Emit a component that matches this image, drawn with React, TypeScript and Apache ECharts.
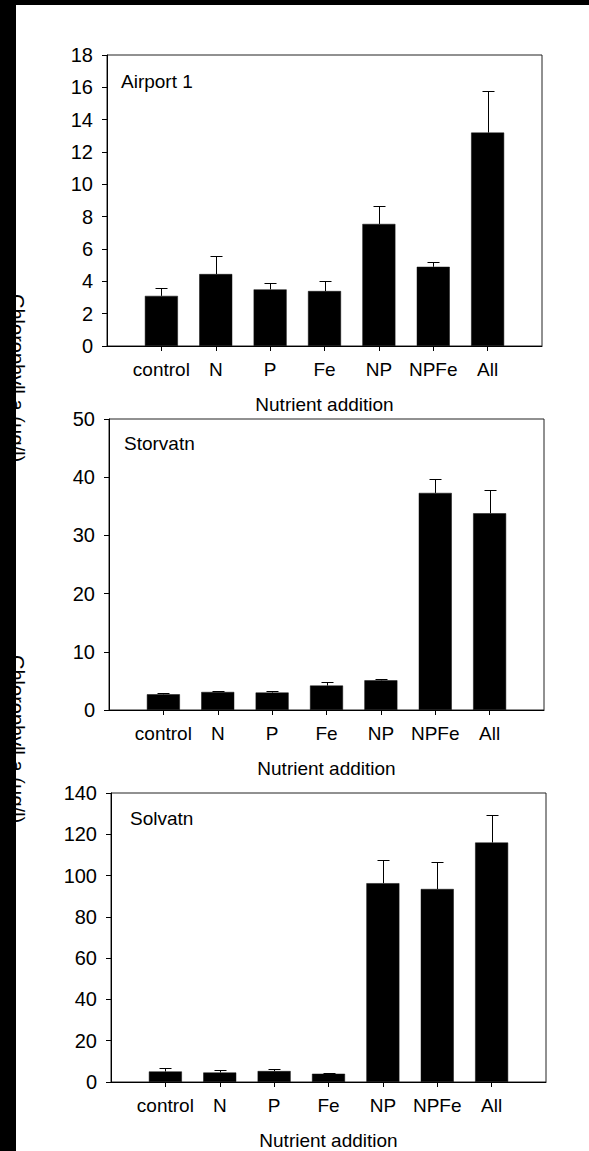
import React, { useEffect, useRef } from "react";
import * as echarts from "echarts";

// Nutrient treatments, in plotting order
const categories = ["control", "N", "P", "Fe", "NP", "NPFe", "All"];

// Chlorophyll a (µg/l): mean and standard error per treatment
const airportMeans = [3.1, 4.45, 3.5, 3.4, 7.55, 4.9, 13.2];
const airportErrors = [0.5, 1.1, 0.4, 0.65, 1.1, 0.3, 2.55];

const storvatnMeans = [2.7, 3.1, 3.0, 4.2, 5.1, 37.3, 33.8];
const storvatnErrors = [0.25, 0.2, 0.2, 0.65, 0.3, 2.35, 3.95];

const solvatnMeans = [5.1, 4.6, 5.3, 4.0, 96.3, 93.5, 116.0];
const solvatnErrors = [1.5, 1.0, 0.8, 0.5, 11.3, 13.2, 13.4];

const lakeNames = ["Airport 1", "Storvatn", "Solvatn"];
const yMax = [18, 50, 140];
const yStep = [2, 10, 20];

const xTitle = "Nutrient addition";
const yTitle = "Chlorophyll a (µg/l)";

const FONT = "'Liberation Sans', Arial, Helvetica, sans-serif";

// panel frames on the page
const frames = [
  { left: 107, top: 55 },
  { left: 109, top: 419 },
  { left: 111, top: 793 },
];
const PLOT_W = 435;
const PLOT_H = 291;

// empty slots at both ends leave a gap of one bar step next to the frame
const axisCats = ["", ...categories, ""];

function buildOption() {
  const means = [airportMeans, storvatnMeans, solvatnMeans];
  const errors = [airportErrors, storvatnErrors, solvatnErrors];

  const grid = frames.map((f) => ({
    left: f.left,
    top: f.top,
    width: PLOT_W,
    height: PLOT_H,
    show: true,
    borderColor: "#222",
    borderWidth: 1,
    backgroundColor: "transparent",
    containLabel: false,
  }));

  const xAxis = frames.map((_, i) => ({
    type: "category",
    gridIndex: i,
    data: axisCats,
    boundaryGap: false,
    axisLine: { show: true, onZero: false, lineStyle: { color: "#000", width: 1 } },
    axisTick: {
      show: true,
      length: 5,
      interval: (idx: number) => idx > 0 && idx < axisCats.length - 1,
      lineStyle: { color: "#000", width: 1 },
    },
    axisLabel: {
      interval: 0,
      color: "#000",
      fontSize: 19,
      fontFamily: FONT,
      margin: 14,
    },
    splitLine: { show: false },
    name: xTitle,
    nameLocation: "middle",
    nameGap: 49,
    nameTextStyle: { color: "#000", fontSize: 19, fontFamily: FONT },
  }));

  const yAxis = frames.map((_, i) => ({
    type: "value",
    gridIndex: i,
    min: 0,
    max: yMax[i],
    interval: yStep[i],
    axisLine: { show: true, lineStyle: { color: "#000", width: 1 } },
    axisTick: { show: true, length: 5, lineStyle: { color: "#000", width: 1 } },
    axisLabel: { color: "#000", fontSize: 20, fontFamily: FONT, margin: 14 },
    splitLine: { show: false },
  }));

  const series: any[] = [];
  frames.forEach((_, i) => {
    series.push({
      type: "bar",
      xAxisIndex: i,
      yAxisIndex: i,
      barWidth: 33,
      itemStyle: { color: "#000", borderColor: "#111", borderWidth: 0.5 },
      data: ["-", ...means[i], "-"],
      z: 2,
    });
    series.push({
      type: "custom",
      xAxisIndex: i,
      yAxisIndex: i,
      z: 3,
      data: categories.map((c, k) => [c, means[i][k], errors[i][k]]),
      encode: { x: 0, y: 1 },
      renderItem: (_params: any, api: any) => {
        const x = api.value(0);
        const m = api.value(1);
        const e = api.value(2);
        const base = api.coord([x, m]);
        const top = api.coord([x, m + e]);
        const cx = Math.round(base[0]) + 0.5;
        const ty = Math.round(top[1]) + 0.5;
        const half = 6;
        const style = { stroke: "#000", lineWidth: 1 };
        return {
          type: "group",
          children: [
            { type: "line", shape: { x1: cx, y1: base[1], x2: cx, y2: ty }, style },
            { type: "line", shape: { x1: cx - half, y1: ty, x2: cx + half, y2: ty }, style },
          ],
        };
      },
    });
  });

  const labelPos = [
    { x: 121, y: 83 },
    { x: 124, y: 445 },
    { x: 130, y: 820 },
  ];

  const yTitleText = (y: number) => ({
    type: "text",
    x: 17,
    y,
    rotation: -Math.PI / 2,
    z: 10,
    style: {
      text: yTitle,
      fill: "#000",
      fontSize: 20,
      fontFamily: FONT,
      textAlign: "left",
      textVerticalAlign: "middle",
    },
  });

  const graphic: any[] = [
    ...lakeNames.map((name, i) => ({
      type: "text",
      left: labelPos[i].x,
      top: labelPos[i].y - 11,
      z: 10,
      style: { text: name, fill: "#000", fontSize: 19, fontFamily: FONT },
    })),
    // shared y-axis titles, running down the left edge
    yTitleText(294),
    yTitleText(655),
    // dark page margins
    { type: "rect", z: 100, shape: { x: 0, y: 0, width: 16, height: 1151 }, style: { fill: "#000" } },
    { type: "rect", z: 100, shape: { x: 0, y: 0, width: 589, height: 5 }, style: { fill: "#000" } },
  ];

  return {
    animation: false,
    backgroundColor: "#fff",
    grid,
    xAxis,
    yAxis,
    series,
    graphic,
  };
}

export default function App() {
  const ref = useRef<HTMLDivElement>(null);

  useEffect(() => {
    if (!ref.current) return;
    const chart = echarts.init(ref.current, undefined, { renderer: "svg" });
    chart.setOption(buildOption() as any);
    return () => chart.dispose();
  }, []);

  return (
    <div
      ref={ref}
      style={{
        position: "absolute",
        left: 0,
        top: 0,
        width: 589,
        height: 1151,
        background: "#fff",
      }}
    />
  );
}
